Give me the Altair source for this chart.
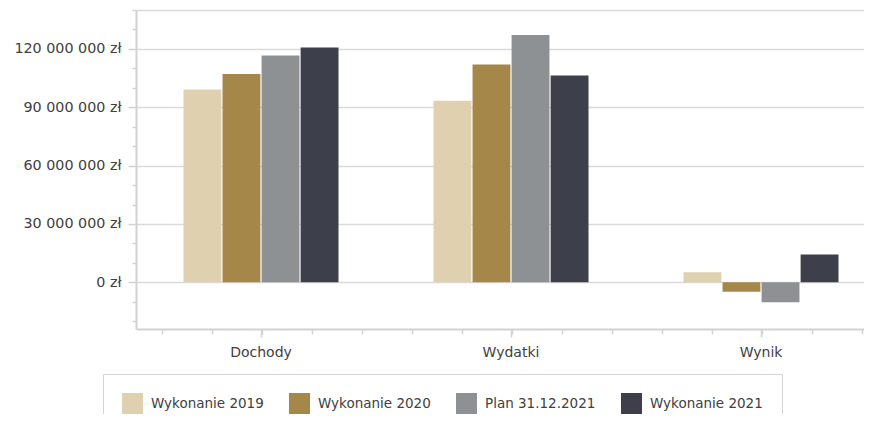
import altair as alt
import pandas as pd

categories = ["Dochody", "Wydatki", "Wynik"]
series = ["Wykonanie 2019", "Wykonanie 2020", "Plan 31.12.2021", "Wykonanie 2021"]
colors = ["#DFD1AF", "#A6874A", "#8E9194", "#3D3F4A"]

v2019 = [99_100_000, 93_400_000, 5_200_000]
v2020 = [107_100_000, 112_000_000, -4_900_000]
vplan = [116_600_000, 127_200_000, -10_300_000]
v2021 = [120_700_000, 106_300_000, 14_300_000]

y_ticks = list(range(-20_000_000, 140_000_001, 10_000_000))
x_minor_ticks = list(range(0, 15))

rows = []
for s, vals in zip(series, [v2019, v2020, vplan, v2021]):
    for c, v in zip(categories, vals):
        rows.append({"kategoria": c, "seria": s, "wartosc": v})
df = pd.DataFrame(rows)

TXT = "#404040"
LINE = "#d2d2d2"

bars = alt.Chart(df).mark_bar().encode(
    x=alt.X("kategoria:N", sort=categories, title=None,
            scale=alt.Scale(paddingInner=0.38, paddingOuter=0.19),
            axis=alt.Axis(labelAngle=0, tickSize=8, tickColor=LINE, tickWidth=1.5,
                          domainColor=LINE, domainWidth=2, labelFontSize=14,
                          labelColor=TXT, labelPadding=8, grid=False)),
    xOffset=alt.XOffset("seria:N", sort=series, scale=alt.Scale(paddingInner=0.03)),
    y=alt.Y("wartosc:Q", title=None,
            scale=alt.Scale(domain=[-24_000_000, 140_000_000], nice=False, zero=False),
            axis=alt.Axis(values=y_ticks,
                          labelExpr="datum.value % 30000000 === 0 ? format(datum.value, ',d') + ' zł' : ''",
                          tickSize={"condition": {"test": "datum.value % 30000000 === 0", "value": 8}, "value": 4},
                          gridOpacity={"condition": {"test": "datum.value % 30000000 === 0 || datum.value === 140000000", "value": 1}, "value": 0},
                          gridColor="#dadada", gridWidth=1.5,
                          tickColor=LINE, tickWidth=1.5,
                          domainColor=LINE, domainWidth=2,
                          labelFontSize=14.3, labelColor=TXT, labelPadding=7)),
    color=alt.Color("seria:N", sort=series,
                    scale=alt.Scale(domain=series, range=colors),
                    legend=alt.Legend(title=None, orient="none", legendX=-33, legendY=364,
                                      direction="horizontal", columns=4,
                                      symbolType="square", symbolSize=441,
                                      symbolStrokeWidth=0,
                                      labelFontSize=13.5, labelColor=TXT,
                                      labelOffset=8, columnPadding=25,
                                      padding=19, strokeColor="#d5d5d5",
                                      fillColor="white", cornerRadius=0)),
)

minor = alt.Chart(pd.DataFrame({"t": x_minor_ticks})).mark_point(opacity=0).encode(
    x=alt.X("t:Q", title=None,
            scale=alt.Scale(domain=[-0.52, 14.48], nice=False, zero=False),
            axis=alt.Axis(values=x_minor_ticks, labels=False, tickSize=5, tickColor=LINE,
                          tickWidth=1.5, domain=False, grid=False, orient="bottom")),
    y=alt.value(0),
)

chart = alt.layer(bars, minor).resolve_scale(x="independent").resolve_axis(x="independent").properties(
    width=750, height=319,
    autosize=alt.AutoSizeParams(type="none"),
    padding={"left": 128, "top": 2, "right": -22, "bottom": 85},
).configure(
    font="DejaVu Sans",
    locale={"number": {"decimal": ",", "thousands": " ", "grouping": [3], "currency": ["", " zł"]}},
).configure_view(strokeWidth=0)

chart.save("out.html", embed_options={"renderer": "svg", "actions": False})
